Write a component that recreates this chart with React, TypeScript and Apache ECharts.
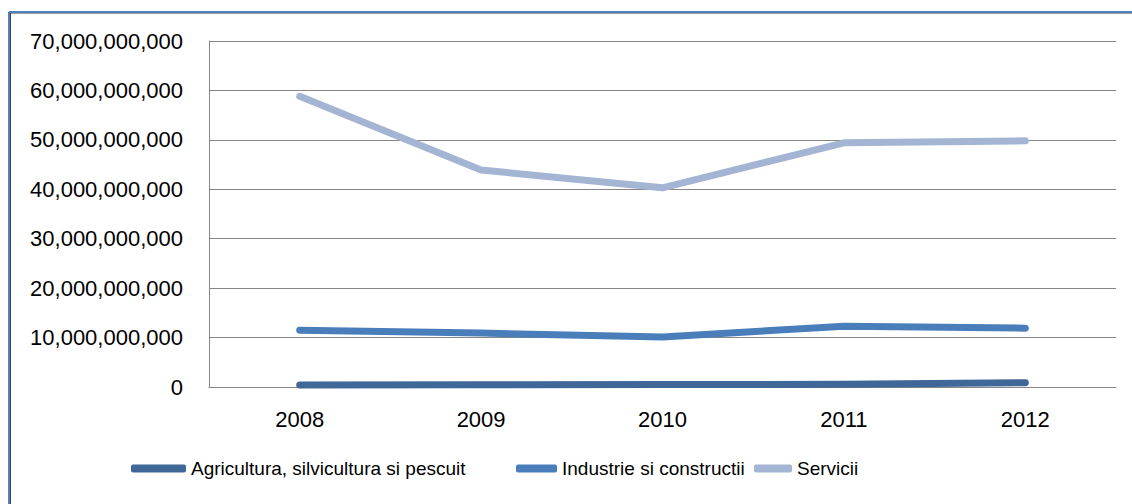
import React, { useEffect, useRef } from "react";
import * as echarts from "echarts";

const years = ["2008", "2009", "2010", "2011", "2012"];
const agricultura = [0.4e9, 0.45e9, 0.5e9, 0.55e9, 0.85e9];
const industrie = [11.5e9, 10.9e9, 10.1e9, 12.3e9, 11.9e9];
const servicii = [58.8e9, 43.9e9, 40.3e9, 49.4e9, 49.8e9];
const seriesNames = [
  "Agricultura, silvicultura si pescuit",
  "Industrie si constructii",
  "Servicii",
];
const colors = ["#3F6797", "#4A7EBB", "#A4B5D3"];

const fmt = (v: number) => v.toLocaleString("en-US");

export default function App() {
  const ref = useRef<HTMLDivElement>(null);
  useEffect(() => {
    if (!ref.current) return;
    const chart = echarts.init(ref.current, undefined, { renderer: "svg" });
    const font = "'Liberation Sans', Arial, sans-serif";
    const legendBase = {
      top: 459,
      padding: 0,
      itemHeight: 8,
      icon: "roundRect",
      textStyle: { fontFamily: font, fontSize: 19, color: "#000" },
    };
    const data = [agricultura, industrie, servicii];
    chart.setOption({
      animation: false,
      backgroundColor: "#fff",
      grid: { left: 209, right: 16, top: 41, bottom: 117, containLabel: false },
      legend: [
        { ...legendBase, left: 131, itemWidth: 55, data: [seriesNames[0]] },
        { ...legendBase, left: 516, itemWidth: 41, data: [seriesNames[1]] },
        { ...legendBase, left: 754, itemWidth: 38, data: [seriesNames[2]] },
      ],
      xAxis: {
        type: "category",
        data: years,
        boundaryGap: true,
        axisLine: { lineStyle: { color: "#868686", width: 1 } },
        axisTick: { show: false },
        axisLabel: { fontFamily: font, fontSize: 22, color: "#000", margin: 21 },
      },
      yAxis: {
        type: "value",
        min: 0,
        max: 70e9,
        interval: 10e9,
        axisLine: { show: true, lineStyle: { color: "#868686", width: 1 } },
        axisTick: { show: false },
        splitLine: { lineStyle: { color: "#868686", width: 1 } },
        axisLabel: {
          fontFamily: font,
          fontSize: 22,
          color: "#000",
          margin: 26,
          formatter: (v: number) => fmt(v),
        },
      },
      series: seriesNames.map((name, i) => ({
        name,
        type: "line",
        data: data[i],
        symbol: "none",
        itemStyle: { color: colors[i] },
        lineStyle: { color: colors[i], width: 7, cap: "round", join: "round" },
      })),
      graphic: [
        {
          type: "line",
          shape: { x1: 9, y1: 12, x2: 1132, y2: 12 },
          style: { stroke: "#4F81BD", lineWidth: 2 },
        },
        {
          type: "line",
          shape: { x1: 10, y1: 13.5, x2: 1132, y2: 13.5 },
          style: { stroke: "#A0A0A0", lineWidth: 1 },
        },
        {
          type: "line",
          shape: { x1: 9, y1: 12, x2: 9, y2: 504 },
          style: { stroke: "#4F81BD", lineWidth: 2 },
        },
        {
          type: "line",
          shape: { x1: 10.5, y1: 13, x2: 10.5, y2: 504 },
          style: { stroke: "#404040", lineWidth: 1 },
        },
      ],
    });
    return () => chart.dispose();
  }, []);
  return (
    <div
      ref={ref}
      style={{ width: 1132, height: 504, position: "absolute", left: 0, top: 0 }}
    />
  );
}
